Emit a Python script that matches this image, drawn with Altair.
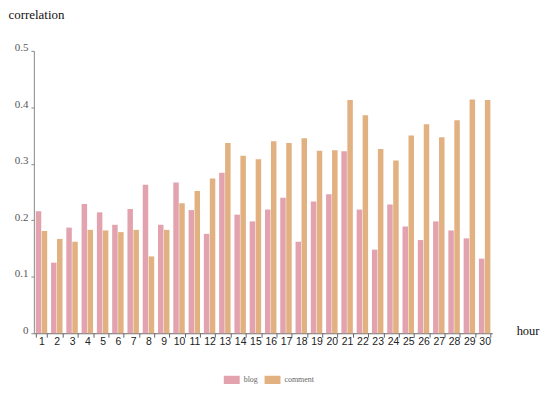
import altair as alt
import pandas as pd

hours = list(range(1, 31))
blog = [0.216, 0.125, 0.187, 0.229, 0.214, 0.192, 0.220, 0.263, 0.192, 0.267,
        0.218, 0.176, 0.284, 0.210, 0.198, 0.219, 0.240, 0.162, 0.233, 0.246,
        0.322, 0.219, 0.148, 0.228, 0.189, 0.165, 0.198, 0.182, 0.168, 0.132]
comment = [0.181, 0.167, 0.162, 0.183, 0.182, 0.179, 0.183, 0.136, 0.183, 0.230,
           0.252, 0.274, 0.337, 0.314, 0.308, 0.340, 0.337, 0.345, 0.323, 0.324,
           0.413, 0.386, 0.326, 0.306, 0.350, 0.370, 0.347, 0.377, 0.414, 0.413]
series = ["blog", "comment"]
colors = ["#e3a3ae", "#e2b182"]
y_ticks = [0, 0.1, 0.2, 0.3, 0.4, 0.5]

df = pd.DataFrame({
    "hour": hours * 2,
    "series": [series[0]] * len(hours) + [series[1]] * len(hours),
    "value": blog + comment,
})

serif = "'Liberation Serif', 'Times New Roman', 'DejaVu Serif', serif"

chart = alt.Chart(df).mark_bar().encode(
    x=alt.X(
        "hour:O",
        scale=alt.Scale(paddingInner=0.25, paddingOuter=0.125),
        axis=alt.Axis(
            title="hour", labelAngle=0, tickBand="extent", tickSize=4,
            labelPadding=-1, labelFont="Liberation Sans", labelFontSize=10.5,
            labelColor="#222", domainColor="#666", tickColor="#666",
            titleFont=serif, titleFontSize=12.5, titleFontWeight="normal",
            titleColor="#111", titleX=485, titleY=1, titleAlign="left",
            titleBaseline="alphabetic",
        ),
    ),
    xOffset=alt.XOffset("series:N", sort=series, scale=alt.Scale(paddingInner=0.08)),
    y=alt.Y(
        "value:Q",
        scale=alt.Scale(domain=[0, 0.5]),
        axis=alt.Axis(
            values=y_ticks, format="~g", grid=False, tickSize=3, labelPadding=3,
            labelFont=serif, labelFontSize=11, labelColor="#555", labelOffset=-3,
            domainColor="#888", tickColor="#888",
            title="correlation", titleFont=serif, titleFontSize=13,
            titleFontWeight="normal", titleColor="#111", titleAngle=0,
            titleX=-26, titleY=-32, titleAlign="left", titleBaseline="alphabetic",
        ),
    ),
    color=alt.Color(
        "series:N",
        scale=alt.Scale(domain=series, range=colors),
        legend=alt.Legend(
            title=None, orient="none", legendX=191, legendY=323, direction="horizontal",
            symbolType="M-1,-0.56H1V0.56H-1Z", symbolSize=256, symbolStrokeWidth=0,
            symbolOpacity=1, labelFont=serif, labelFontSize=8, labelColor="#666",
            labelOffset=4, columnPadding=6,
        ),
    ),
).properties(
    width=461, height=284,
    padding={"left": 26, "top": 42, "right": 50, "bottom": 50},
    autosize="none",
).configure_view(stroke=None)

chart.save("out.html", embed_options={"renderer": "svg", "actions": False})
